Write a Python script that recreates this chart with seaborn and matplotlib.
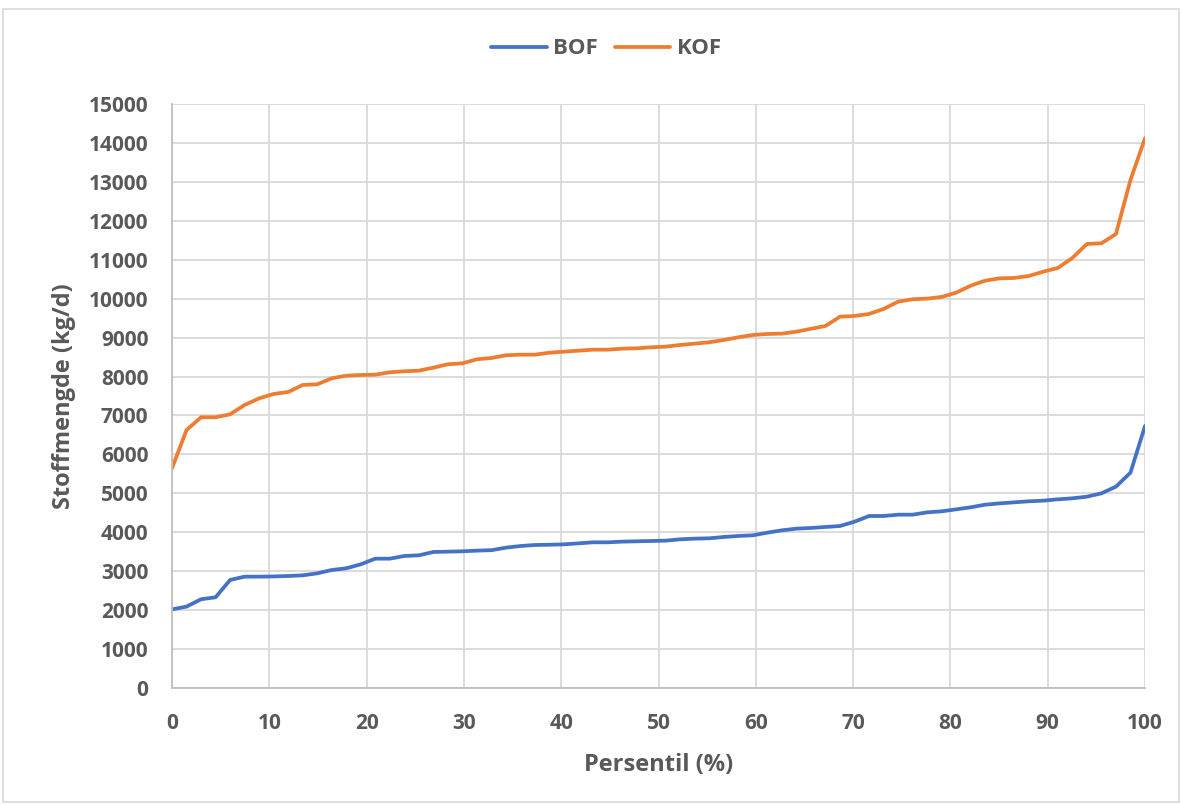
import numpy as np
import pandas as pd
import matplotlib
matplotlib.use("Agg")
import matplotlib.pyplot as plt
from matplotlib.patches import Rectangle
import seaborn as sns

# Daily load (kg/d) at each percentile, sorted ascending
bof = [2020, 2090, 2280, 2330, 2775, 2860, 2860, 2865, 2877, 2894,
       2945, 3031, 3074, 3177, 3322, 3322, 3391, 3408, 3494, 3502,
       3511, 3528, 3540, 3605, 3647, 3673, 3680, 3690, 3716, 3742,
       3742, 3759, 3768, 3776, 3785, 3819, 3836, 3845, 3879, 3905,
       3922, 3990, 4050, 4093, 4110, 4136, 4161, 4272, 4418, 4418,
       4452, 4452, 4512, 4538, 4589, 4641, 4709, 4743, 4769, 4795,
       4812, 4846, 4872, 4914, 5000, 5172, 5531, 6730]
kof = [5643, 6627, 6953, 6953, 7030, 7269, 7440, 7552, 7603, 7783,
       7800, 7955, 8022, 8040, 8048, 8109, 8135, 8151, 8228, 8315,
       8340, 8443, 8477, 8546, 8562, 8562, 8613, 8639, 8665, 8690,
       8690, 8716, 8725, 8751, 8768, 8811, 8845, 8880, 8939, 9008,
       9068, 9093, 9102, 9153, 9227, 9299, 9538, 9556, 9607, 9736,
       9923, 9985, 10002, 10044, 10155, 10334, 10463, 10523, 10532, 10583,
       10694, 10789, 11046, 11405, 11422, 11661, 13049, 14120]
percentil = np.linspace(0, 100, len(bof))
series_names = ["BOF", "KOF"]
x_ticks = list(range(0, 101, 10))
y_ticks = list(range(0, 15001, 1000))

df = pd.DataFrame({
    "Persentil": np.concatenate([percentil, percentil]),
    "Stoffmengde": bof + kof,
    "Serie": [series_names[0]] * len(bof) + [series_names[1]] * len(kof),
})

sns.set_theme(style="white")
plt.rcParams["font.family"] = ["Open Sans", "DejaVu Sans"]
text_color = "#595959"
tick_size = 15
label_size = 17
legend_size = 16

fig = plt.figure(figsize=(11.82, 8.05), dpi=100)
ax = fig.add_axes([172 / 1182, 1 - 688 / 805, (1145 - 172) / 1182, (688 - 104) / 805])

sns.lineplot(data=df, x="Persentil", y="Stoffmengde", hue="Serie",
             palette={"BOF": "#4472C4", "KOF": "#ED7D31"},
             linewidth=2.7, ax=ax, legend=True)

ax.set_xlim(0, 100)
ax.set_ylim(0, 15000)
ax.set_xticks(x_ticks)
ax.set_yticks(y_ticks)
ax.set_xticklabels([str(v) for v in x_ticks])
ax.set_yticklabels([str(v) for v in y_ticks])
ax.grid(True, color="#d9d9d9", linewidth=1.3)
ax.set_axisbelow(True)
for side in ["top", "right"]:
    ax.spines[side].set_visible(False)
for side in ["left", "bottom"]:
    ax.spines[side].set_color("#bfbfbf")
    ax.spines[side].set_linewidth(1.3)

ax.tick_params(axis="both", length=0, labelsize=tick_size, labelcolor=text_color)
ax.tick_params(axis="y", pad=17)
ax.tick_params(axis="x", pad=18)
for lbl in ax.get_xticklabels() + ax.get_yticklabels():
    lbl.set_fontweight("bold")

ax.set_xlabel("Persentil (%)", fontsize=label_size, fontweight="bold", color=text_color, labelpad=14)
ax.set_ylabel("Stoffmengde (kg/d)", fontsize=label_size, fontweight="bold", color=text_color, labelpad=9)

handles, labels = ax.get_legend_handles_labels()
leg = fig.legend(handles, labels, loc="center", bbox_to_anchor=(606 / 1182, 1 - 49 / 805),
                 ncol=2, frameon=False, handlelength=2.5, handletextpad=0.3,
                 columnspacing=0.75, prop={"size": legend_size, "weight": "bold"})
for t in leg.get_texts():
    t.set_color(text_color)
if ax.get_legend() is not None:
    ax.get_legend().remove()

# thin frame around the chart area
fig.patches.append(Rectangle((3 / 1182, 3 / 805), 1176 / 1182, 1 - 12 / 805,
                             transform=fig.transFigure, fill=False,
                             edgecolor="#d9d9d9", linewidth=1.2))

fig.savefig("out.png", dpi=100, facecolor="white")
